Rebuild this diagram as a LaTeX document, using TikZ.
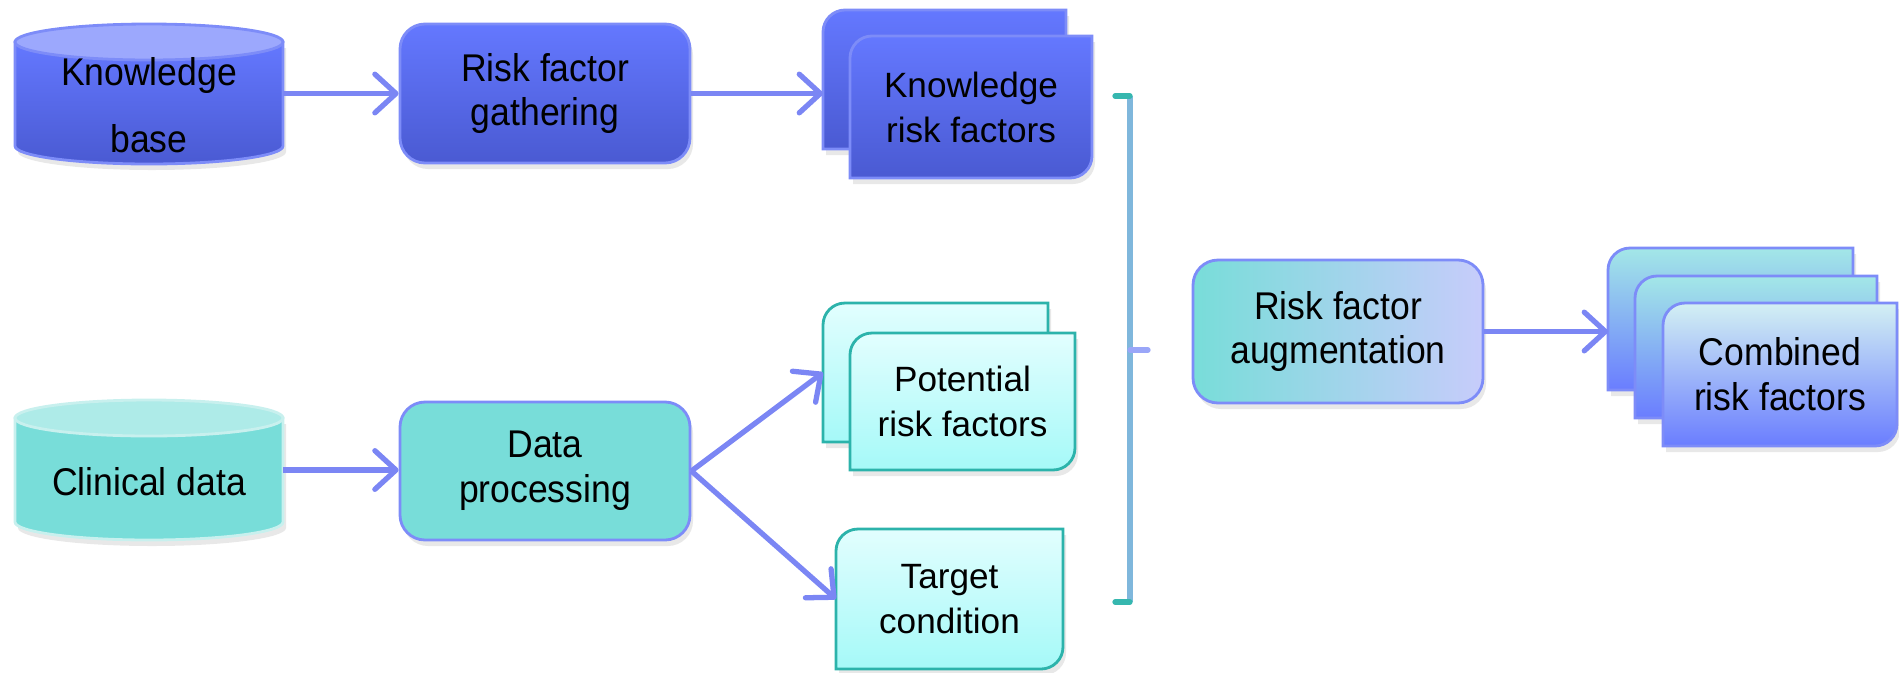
\documentclass[tikz,border=0pt]{standalone}
\usepackage{fontspec}
\setmainfont{Liberation Sans}
\newfontfamily\narrowfont[FakeStretch=0.92]{Liberation Sans}
\usepackage{tikz}
\usetikzlibrary{arrows.meta, calc, shadows, backgrounds}
\usetikzlibrary{positioning}

\definecolor{bluetop}{HTML}{6478FF}
\definecolor{bluebot}{HTML}{4A5AD2}
\definecolor{blueline}{HTML}{7D8CF8}
\definecolor{bluecap}{HTML}{9CA8FD}
\definecolor{tealfill}{HTML}{78DDD9}
\definecolor{tealcap}{HTML}{AEEBE8}
\definecolor{tealline}{HTML}{C8F0EE}
\definecolor{cyantop}{HTML}{E2FEFE}
\definecolor{cyanbot}{HTML}{A5F9F8}
\definecolor{cyanline}{HTML}{2CB3AB}
\definecolor{lavender}{HTML}{C7CCFB}
\definecolor{combtop}{HTML}{A3E7E7}
\definecolor{combbot}{HTML}{6A7DFF}
\definecolor{combpale}{HTML}{D3F0F3}
\definecolor{arrowblue}{HTML}{7B86F4}
\definecolor{bracketc}{HTML}{7FB7DC}
\definecolor{bracketend}{HTML}{36B7AF}
\definecolor{tickc}{HTML}{9AA6F8}

% card with rounded top-left and bottom-right corners, behind its node
\newcommand{\drawcard}[2]{%
  \begin{scope}[on background layer]
    \path[#1, drop shadow={opacity=.18, shadow xshift=.03cm, shadow yshift=-.06cm}]
      ([yshift=-.22cm]#2.north west) arc[start angle=180, end angle=90, radius=.22cm]
      -- (#2.north east) -- ([yshift=.22cm]#2.south east)
      arc[start angle=0, end angle=-90, radius=.22cm] -- (#2.south west) -- cycle;
  \end{scope}}
% database drum round a node
\newcommand{\drawdbase}[3]{%
  \path[#1, drop shadow={opacity=.18, shadow xshift=.03cm, shadow yshift=-.06cm}]
    ([yshift=-.18cm]#3.north west) -- ([yshift=.18cm]#3.south west)
    arc[start angle=180, end angle=360, x radius=1.34cm, y radius=.18cm]
    -- ([yshift=-.18cm]#3.north east) -- cycle;
  \path[#2] ([yshift=-.18cm]#3.north) ellipse [x radius=1.34cm, y radius=.18cm];}

\begin{document}
\begin{tikzpicture}[
    box/.style={rectangle, rounded corners=.25cm, minimum width=2.9cm, minimum height=1.39cm,
      draw=blueline, line width=.8pt, align=center, font=\narrowfont\fontsize{11}{12.8}\selectfont,
      drop shadow={opacity=.18, shadow xshift=.03cm, shadow yshift=-.06cm}},
    dbase/.style={rectangle, inner sep=0, outer sep=0, minimum width=2.68cm, minimum height=1.4cm},
    card/.style={rectangle, inner sep=0, outer sep=0, minimum width=2.42cm, minimum height=1.4cm,
      align=center, font=\fontsize{10}{12.8}\selectfont},
    lbl/.style={align=center, font=\narrowfont\fontsize{11}{12.8}\selectfont},
    link/.style={draw=arrowblue, line width=1.5pt, -{Straight Barb[length=6pt, width=11pt, round]}},
    bluedrum/.style={top color=bluetop, bottom color=bluebot, draw=blueline, line width=.8pt},
    bluelid/.style={fill=bluecap, draw=blueline, line width=.8pt},
    tealdrum/.style={fill=tealfill, draw=tealline, line width=.8pt},
    teallid/.style={fill=tealcap, draw=tealline, line width=.8pt},
    bluecard/.style={top color=bluetop, bottom color=bluebot, draw=blueline, line width=.8pt},
    cyancard/.style={top color=cyantop, bottom color=cyanbot, draw=cyanline, line width=.8pt},
    combcard/.style={top color=combtop, bottom color=combbot, draw=blueline, line width=.8pt},
    palecard/.style={top color=combpale, bottom color=combbot, draw=blueline, line width=.8pt}
  ]
  \useasboundingbox (0,0) rectangle (18.99,-6.72);

  % sources
  \node[dbase] (kb) at (1.49,-0.94) {};
  \drawdbase{bluedrum}{bluelid}{kb}
  \node[lbl, font=\narrowfont\fontsize{11}{19}\selectfont] (kbtext) at (1.49,-1.05) {Knowledge\\base};
  \node[dbase] (cd) at (1.49,-4.70) {};
  \drawdbase{tealdrum}{teallid}{cd}
  \node[lbl] (cdtext) at (1.49,-4.82) {Clinical data};

  % processing steps
  \node[box, top color=bluetop, bottom color=bluebot] (rfg) at (5.45,-0.935) {Risk factor\\gathering};
  \node[box, fill=tealfill, minimum height=1.38cm] (dp) at (5.45,-4.71) {Data\\processing};
  \node[box, left color=tealfill, right color=lavender, minimum height=1.43cm] (aug) at (13.38,-3.315) {Risk factor\\augmentation};

  % outputs
  \node[card, minimum width=2.43cm, minimum height=1.39cm] (krfback) at (9.445,-0.795) {};
  \node[card, minimum height=1.42cm] (krf) at (9.71,-1.07) {Knowledge\\risk factors};
  \drawcard{bluecard}{krfback}
  \drawcard{bluecard}{krf}
  \node[card, minimum width=2.25cm, minimum height=1.39cm] (prfback) at (9.355,-3.725) {};
  \node[card, minimum width=2.25cm, minimum height=1.37cm] (prf) at (9.625,-4.015) {Potential\\risk factors};
  \drawcard{cyancard}{prfback}
  \drawcard{cyancard}{prf}
  \node[card, minimum width=2.27cm] (tc) at (9.495,-5.99) {Target\\condition};
  \drawcard{cyancard}{tc}
  \node[card, minimum width=2.45cm, minimum height=1.42cm] (comb1) at (17.305,-3.19) {};
  \node[card, minimum height=1.42cm] (comb2) at (17.56,-3.47) {};
  \node[card, lbl, minimum width=2.34cm, minimum height=1.43cm] (comb3) at (17.80,-3.745) {Combined\\risk factors};
  \drawcard{combcard}{comb1}
  \drawcard{combcard}{comb2}
  \drawcard{palecard}{comb3}

  % arrows
  \draw[link] (kb.east |- rfg.west) -- (rfg.west);
  \draw[link] (rfg.east) -- (rfg.east -| krfback.west);
  \draw[link] (cd.east) -- (cd.east -| dp.west);
  \draw[link] (dp.east) -- (prfback.west);
  \draw[link] (dp.east) -- (tc.west);
  \draw[link] (aug.east) -- (aug.east -| comb1.west);

  % bracket
  \coordinate (brtop) at (11.30,-0.96);
  \coordinate (brbot) at (11.30,-6.02);
  \coordinate (brmid) at (11.30,-3.50);
  \draw[bracketc, line width=1.5pt, line join=round] (brtop) -- (brbot);
  \draw[bracketend, line width=1.5pt, line cap=round] ([xshift=-.15cm]brtop) -- (brtop);
  \draw[bracketend, line width=1.5pt, line cap=round] ([xshift=-.15cm]brbot) -- (brbot);
  \draw[tickc, line width=1.5pt, line cap=round] (brmid) -- ++(.18,0);
\end{tikzpicture}
\end{document}
